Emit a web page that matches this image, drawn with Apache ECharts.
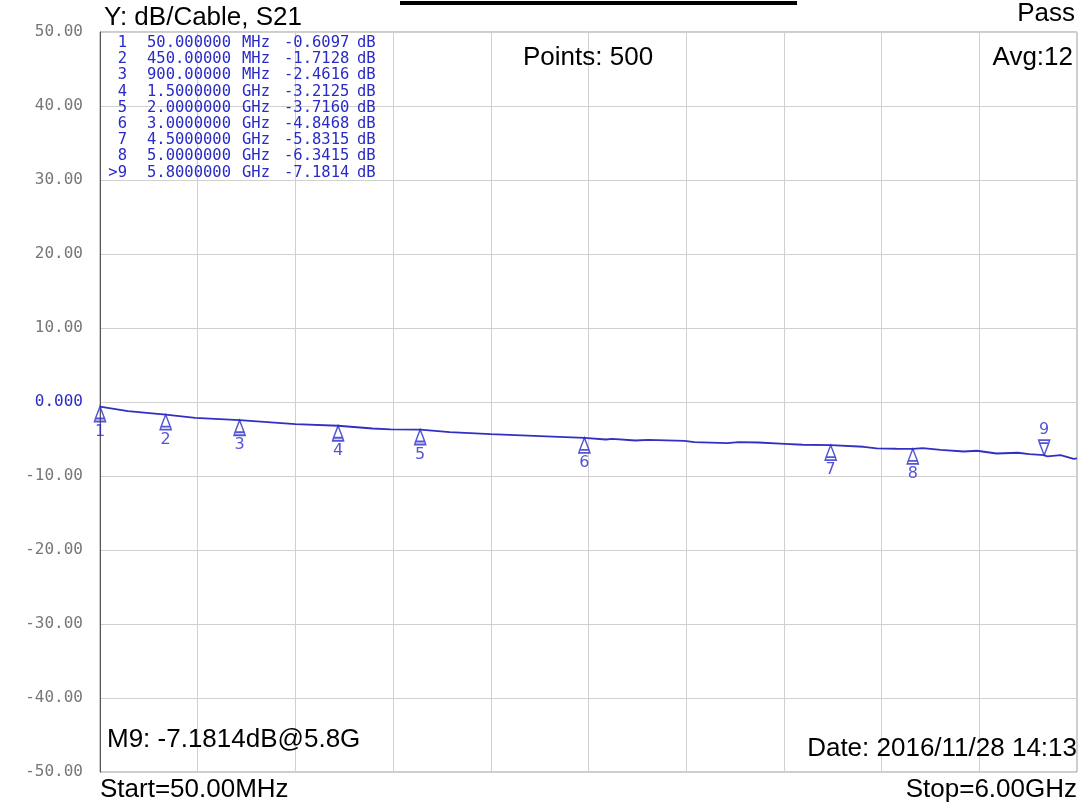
<!DOCTYPE html>
<html>
<head>
<meta charset="utf-8">
<script src="https://cdn.jsdelivr.net/npm/echarts@6/dist/echarts.min.js"></script>
<style>
html,body{margin:0;padding:0;background:#fff;}
#c{width:1081px;height:807px;}
</style>
</head>
<body>
<div id="c"></div>
<script>
// ---- data ----
const traceFreqGHz = [0.05, 0.22, 0.45, 0.63, 0.90, 1.24, 1.50, 1.71, 1.82, 2.00, 2.18, 2.43, 2.73, 3.00, 3.13, 3.17, 3.31, 3.39, 3.61, 3.67, 3.87, 3.94, 4.06, 4.22, 4.33, 4.50, 4.70, 4.78, 4.90, 5.00, 5.06, 5.17, 5.31, 5.39, 5.51, 5.64, 5.71, 5.80, 5.82, 5.90, 5.98, 6.00];
const traceDb = [-0.61, -1.24, -1.71, -2.14, -2.46, -3.00, -3.21, -3.58, -3.70, -3.72, -4.08, -4.35, -4.62, -4.85, -5.07, -4.97, -5.20, -5.11, -5.24, -5.43, -5.57, -5.43, -5.47, -5.65, -5.78, -5.83, -6.05, -6.28, -6.32, -6.34, -6.24, -6.46, -6.69, -6.59, -6.96, -6.86, -7.05, -7.18, -7.36, -7.19, -7.68, -7.63];

const markerIds = ['1', '2', '3', '4', '5', '6', '7', '8', '9'];
const markerFreqGHz = [0.05, 0.45, 0.9, 1.5, 2.0, 3.0, 4.5, 5.0, 5.8];
const markerDb = [-0.6097, -1.7128, -2.4616, -3.2125, -3.7160, -4.8468, -5.8315, -6.3415, -7.1814];
const markerFreqText = ['50.000000', '450.00000', '900.00000', '1.5000000', '2.0000000', '3.0000000', '4.5000000', '5.0000000', '5.8000000'];
const markerUnit = ['MHz', 'MHz', 'MHz', 'GHz', 'GHz', 'GHz', 'GHz', 'GHz', 'GHz'];
const activeMarker = 8;

const yTicks = [-50, -40, -30, -20, -10, 0, 10, 20, 30, 40, 50];

const titleText = 'Y: dB/Cable, S21';
const statusText = 'Pass';
const pointsText = 'Points: 500';
const avgText = 'Avg:12';
const m9Text = 'M9: -7.1814dB@5.8G';
const dateText = 'Date: 2016/11/28 14:13';
const startText = 'Start=50.00MHz';
const stopText = 'Stop=6.00GHz';

// ---- chart ----
const BLUE = '#2a2ac8';
const chart = echarts.init(document.getElementById('c'));

const upPath = 'path://M6,0 L1,12 L11,12 Z M1,12 L0,15 L12,15 L11,12';
const downPath = 'path://M6,15 L1,3 L11,3 Z M1,3 L0,0 L12,0 L11,3';

const markerData = markerIds.map((id, i) => {
  const active = i === activeMarker;
  return {
    value: [markerFreqGHz[i], markerDb[i]],
    name: id,
    symbol: active ? downPath : upPath,
    symbolOffset: active ? [0, '-50%'] : [0, '50%'],
    label: {position: active ? 'top' : 'bottom', distance: 1}
  };
});

const legendGraphics = [];
const rowY0 = 43, rowStep = 16.2;
markerIds.forEach((id, i) => {
  const y = rowY0 + i * rowStep;
  const common = {fontFamily: 'DejaVu Sans Mono', fontSize: 15.5, fill: BLUE, verticalAlign: 'middle'};
  legendGraphics.push(
    {type: 'text', z: 50, x: 127, y: y, style: Object.assign({text: (i === activeMarker ? '>' : '') + id, align: 'right'}, common)},
    {type: 'text', z: 50, x: 147, y: y, style: Object.assign({text: markerFreqText[i], align: 'left'}, common)},
    {type: 'text', z: 50, x: 242, y: y, style: Object.assign({text: markerUnit[i], align: 'left'}, common)},
    {type: 'text', z: 50, x: 284, y: y, style: Object.assign({text: markerDb[i].toFixed(4), align: 'left'}, common)},
    {type: 'text', z: 50, x: 357, y: y, style: Object.assign({text: 'dB', align: 'left'}, common)}
  );
});

const txt = (text, x, y, align) => ({
  type: 'text', z: 50, x: x, y: y,
  style: {text: text, fontFamily: 'Liberation Sans', fontSize: 26, fill: '#000', align: align, verticalAlign: 'middle'}
});

chart.setOption({
  animation: false,
  backgroundColor: '#fff',
  grid: {left: 100, right: 4, top: 32, bottom: 35, show: true, borderColor: '#9a9a9a', borderWidth: 1},
  xAxis: [
    {type: 'value', min: 0.05, max: 6, axisLine: {show: false}, axisTick: {show: false}, axisLabel: {show: false}, splitLine: {show: false}},
    {type: 'value', min: 0, max: 10, interval: 1, position: 'bottom', axisLine: {show: false}, axisTick: {show: false}, axisLabel: {show: false},
     splitLine: {show: true, lineStyle: {color: '#d0d0d0', width: 1}}}
  ],
  yAxis: {
    type: 'value', min: yTicks[0], max: yTicks[yTicks.length - 1], interval: 10,
    axisLine: {show: true, lineStyle: {color: '#555', width: 1}},
    axisTick: {show: false},
    splitLine: {show: true, lineStyle: {color: '#d0d0d0', width: 1}},
    axisLabel: {
      margin: 17, fontFamily: 'DejaVu Sans Mono', fontSize: 16,
      formatter: v => v === 0 ? '0.000' : v.toFixed(2),
      color: v => (Number(v) === 0 || v === '0.000') ? BLUE : '#777777'
    }
  },
  series: [
    {
      type: 'line', xAxisIndex: 0, showSymbol: false, symbol: 'none',
      data: traceFreqGHz.map((f, i) => [f, traceDb[i]]),
      lineStyle: {color: '#3030c4', width: 1.8}, z: 3
    },
    {
      type: 'scatter', xAxisIndex: 0, data: markerData,
      symbolSize: [11, 15], symbolKeepAspect: false,
      itemStyle: {color: 'rgba(0,0,0,0)', borderColor: BLUE, borderWidth: 1.6},
      label: {show: true, formatter: p => p.name, color: BLUE, fontFamily: 'DejaVu Sans', fontSize: 16},
      z: 4
    }
  ],
  graphic: [
    {type: 'rect', z: 50, shape: {x: 400, y: 1, width: 397, height: 4}, style: {fill: '#000'}},
    txt(titleText, 104, 18, 'left'),
    txt(statusText, 1075, 14, 'right'),
    txt(pointsText, 523, 58, 'left'),
    txt(avgText, 1073, 58, 'right'),
    txt(m9Text, 107, 740, 'left'),
    txt(dateText, 1077, 749, 'right'),
    txt(startText, 100, 790, 'left'),
    txt(stopText, 1077, 790, 'right')
  ].concat(legendGraphics)
});
</script>
</body>
</html>
